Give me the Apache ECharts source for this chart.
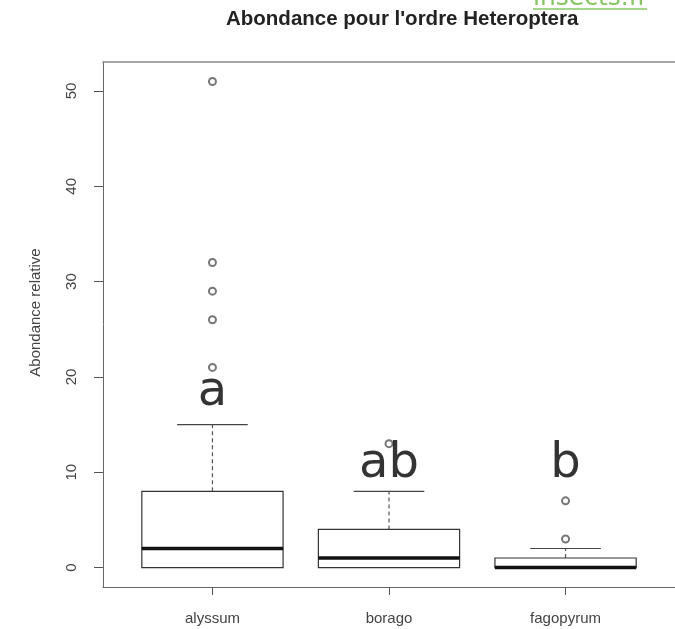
<!DOCTYPE html>
<html>
<head>
<meta charset="utf-8">
<script src="https://cdn.jsdelivr.net/npm/echarts@6/dist/echarts.min.js"></script>
<style>
  html, body { margin: 0; padding: 0; background: #fff; }
  #chart { width: 675px; height: 629px; }
</style>
</head>
<body>
<div id="chart"></div>
<script>
// box stats
const categories = ['alyssum', 'borago', 'fagopyrum'];
const lowWhisker = [0, 0, 0];
const q1 = [0, 0, 0];
const median = [2, 1, 0];
const q3 = [8, 4, 1];
const highWhisker = [15, 8, 2];
const outAlyssum = [21, 26, 29, 32, 51];
const outBorago = [13];
const outFagopyrum = [7, 3];
// group letters and where they sit
const letters = ['a', 'ab', 'b'];
const letterY = [15.8, 8.3, 8.3];
const yTicks = [0, 10, 20, 30, 40, 50];

var boxData = categories.map(function (c, i) {
    return [i + 1, lowWhisker[i], q1[i], median[i], q3[i], highWhisker[i]];
});

var outlierData = [];
[outAlyssum, outBorago, outFagopyrum].forEach(function (arr, i) {
    arr.forEach(function (v) { outlierData.push([i + 1, v]); });
});

var letterData = letters.map(function (l, i) { return [i + 1, letterY[i], l]; });

function renderBox(params, api) {
    var x = api.value(0);
    var w = 0.4, cap = 0.2;
    var pLow = api.coord([x, api.value(1)]);
    var pQ1L = api.coord([x - w, api.value(2)]);
    var pQ3R = api.coord([x + w, api.value(4)]);
    var pMedL = api.coord([x - w, api.value(3)]);
    var pMedR = api.coord([x + w, api.value(3)]);
    var pQ1 = api.coord([x, api.value(2)]);
    var pQ3 = api.coord([x, api.value(4)]);
    var pHigh = api.coord([x, api.value(5)]);
    var capL = api.coord([x - cap, api.value(5)]);
    var capR = api.coord([x + cap, api.value(5)]);
    var dashed = { stroke: '#555', lineWidth: 1.2, lineDash: [4, 3] };
    return {
        type: 'group',
        children: [
            { type: 'line', shape: { x1: pQ3[0], y1: pQ3[1], x2: pHigh[0], y2: pHigh[1] }, style: dashed },
            { type: 'line', shape: { x1: pQ1[0], y1: pQ1[1], x2: pLow[0], y2: pLow[1] }, style: dashed },
            { type: 'line', shape: { x1: capL[0], y1: capL[1], x2: capR[0], y2: capR[1] },
              style: { stroke: '#444', lineWidth: 1.2 } },
            { type: 'rect', shape: { x: pQ1L[0], y: pQ3R[1], width: pQ3R[0] - pQ1L[0], height: pQ1L[1] - pQ3R[1] },
              style: { stroke: '#333', lineWidth: 1.2, fill: '#fff' } },
            { type: 'line', shape: { x1: pMedL[0], y1: pMedL[1], x2: pMedR[0], y2: pMedR[1] },
              style: { stroke: '#111', lineWidth: 3.5 } }
        ]
    };
}

var chart = echarts.init(document.getElementById('chart'));

chart.setOption({
    backgroundColor: '#fff',
    animation: false,
    title: {
        text: "Abondance pour l'ordre Heteroptera",
        left: 221,
        top: 4,
        textStyle: { fontFamily: 'Liberation Sans', fontSize: 20.5, fontWeight: 'bold', color: '#222' }
    },
    graphic: [
        { type: 'text', x: 533, y: 11,
          style: { text: 'insects.fr', fontFamily: 'DejaVu Sans', fontSize: 25, fill: '#86c764', verticalAlign: 'bottom' } },
        { type: 'line', shape: { x1: 533, y1: 9, x2: 647, y2: 9 },
          style: { stroke: '#86c764', lineWidth: 1.5 } }
    ],
    grid: {
        left: 103, top: 62, right: -16, bottom: 42
    },
    xAxis: [{
        type: 'value',
        min: 0.38, max: 3.62,
        splitLine: { show: false },
        axisLine: { show: true, onZero: false, lineStyle: { color: '#666', width: 1 } },
        axisTick: { show: true, length: 8, customValues: [1, 2, 3], lineStyle: { color: '#555' } },
        axisLabel: {
            customValues: [1, 2, 3],
            margin: 24,
            fontFamily: 'Liberation Sans', fontSize: 15, color: '#444',
            formatter: function (v) { return categories[Math.round(v) - 1]; }
        }
    }, {
        // top edge of the frame
        type: 'value',
        position: 'top',
        min: 0.38, max: 3.62,
        splitLine: { show: false },
        axisLine: { show: true, onZero: false, lineStyle: { color: '#888', width: 1.5 } },
        axisTick: { show: false },
        axisLabel: { show: false }
    }],
    yAxis: {
        type: 'value',
        min: -2.04, max: 53.04,
        name: 'Abondance relative',
        nameLocation: 'middle',
        nameGap: 60,
        nameRotate: 90,
        nameTextStyle: { fontFamily: 'Liberation Sans', fontSize: 15, color: '#444', padding: [0, 0, 0, 24] },
        splitLine: { show: false },
        axisLine: { show: true, onZero: false, lineStyle: { color: '#666', width: 1 } },
        axisTick: { show: true, length: 9, customValues: yTicks, lineStyle: { color: '#555' } },
        axisLabel: {
            customValues: yTicks,
            rotate: 90,
            margin: 24,
            fontFamily: 'Liberation Sans', fontSize: 15, color: '#444'
        }
    },
    series: [
        {
            type: 'custom',
            renderItem: renderBox,
            encode: { x: 0, y: [1, 2, 3, 4, 5] },
            data: boxData,
            z: 2
        },
        {
            type: 'scatter',
            symbol: 'emptyCircle',
            symbolSize: 7,
            itemStyle: { color: '#555', borderWidth: 1.3 },
            data: outlierData,
            z: 3
        },
        {
            type: 'scatter',
            symbolSize: 0,
            data: letterData,
            label: {
                show: true,
                position: 'top',
                distance: 0,
                formatter: function (p) { return p.data[2]; },
                fontFamily: 'DejaVu Sans', fontSize: 48, color: '#000'
            },
            z: 4
        }
    ]
});
</script>
</body>
</html>
